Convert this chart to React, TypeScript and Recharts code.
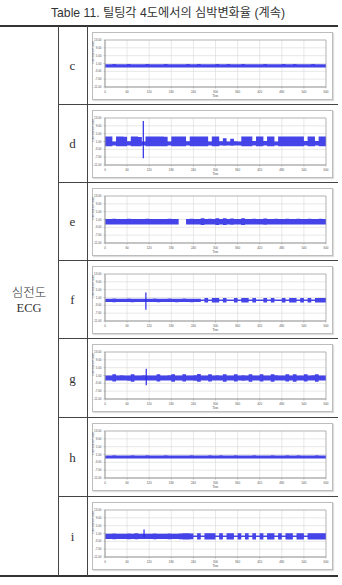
import React from 'react';
import { ComposedChart, Area, XAxis, YAxis, CartesianGrid, ReferenceArea, ReferenceLine } from 'recharts';

const TITLE = 'Table 11. 틸팅각 4도에서의 심박변화율 (계속)';
const GROUP_LABEL_KO = '심전도';
const GROUP_LABEL_EN = 'ECG';
const ROW_LABELS = ['c', 'd', 'e', 'f', 'g', 'h', 'i'];
const X_TICKS = [0, 60, 120, 180, 240, 300, 360, 420, 480, 540, 600];
const X_LABEL = 'Time';
const Y_LABEL = 'Differenced Count';
const Y_TICKS = [-11, -7, -3, 1, 5, 9, 13];
const Y_TICK_LABELS = ['-11.00', '-7.00', '-3.00', '1.00', '5.00', '9.00', '13.00'];

const TIME_BINS = [
  0, 10, 20, 30, 40, 50, 60, 70, 80, 90,
  100, 110, 120, 130, 140, 150, 160, 170, 180, 190,
  200, 210, 220, 230, 240, 250, 260, 270, 280, 290,
  300, 310, 320, 330, 340, 350, 360, 370, 380, 390,
  400, 410, 420, 430, 440, 450, 460, 470, 480, 490,
  500, 510, 520, 530, 540, 550, 560, 570, 580, 590,
];
const END_TIME = 600;

const C_HI = [
  0.6, 0.6, 0.7, 0.6, 0.6, 0.6, 0.7, 0.6, 0.6, 0.6,
  0.6, 0.7, 0.6, 0.6, 0.6, 0.6, 0.7, 0.6, 0.6, 0.6,
  0.6, 0.6, 0.7, 0.6, 0.6, 0.7, 0.6, 0.6, 0.6, 0.6,
  0.7, 0.6, 0.6, 0.7, 0.6, 0.6, 0.6, 0.7, 0.6, 0.6,
  0.6, 0.6, 0.6, 0.7, 0.6, 0.6, 0.6, 0.6, 0.7, 0.6,
  0.6, 0.7, 0.6, 0.6, 0.6, 0.6, 0.7, 0.6, 0.6, 0.6,
];
const C_LO = [
  -1.0, -1.0, -1.1, -1.0, -1.0, -1.0, -1.0, -1.1, -1.0, -1.0,
  -1.0, -1.0, -1.0, -1.1, -1.0, -1.0, -1.0, -1.0, -1.1, -1.0,
  -1.0, -1.1, -1.0, -1.0, -1.0, -1.0, -1.1, -1.0, -1.0, -1.0,
  -1.0, -1.0, -1.1, -1.0, -1.0, -1.1, -1.0, -1.0, -1.0, -1.0,
  -1.1, -1.0, -1.0, -1.0, -1.0, -1.1, -1.0, -1.0, -1.0, -1.1,
  -1.0, -1.0, -1.0, -1.1, -1.0, -1.0, -1.0, -1.1, -1.0, -1.0,
];

const D_HI = [
  3.6, 3.5, 1.0, 3.6, 3.6, 3.4, 1.1, 3.6, 3.5, 3.3,
  1.0, 3.6, 3.6, 3.5, 3.6, 3.6, 3.4, 1.0, 3.6, 3.6,
  3.5, 3.6, 1.1, 3.6, 3.6, 3.6, 3.5, 3.6, 1.0, 3.6,
  3.5, 1.1, 2.6, 1.0, 2.4, 1.1, 1.0, 3.6, 3.6, 3.5,
  1.2, 3.6, 3.6, 1.3, 3.6, 3.5, 1.0, 3.6, 3.6, 3.6,
  3.5, 3.6, 3.6, 3.5, 1.2, 3.6, 3.6, 1.3, 3.6, 3.5,
];
const D_LO = [
  -1.4, -1.4, -1.0, -1.4, -1.4, -1.4, -1.0, -1.4, -1.4, -1.4,
  -1.0, -1.4, -1.4, -1.4, -1.4, -1.4, -1.4, -1.0, -1.4, -1.4,
  -1.4, -1.4, -1.0, -1.4, -1.4, -1.4, -1.4, -1.4, -1.0, -1.4,
  -1.4, -1.0, -1.2, -1.0, -1.2, -1.0, -1.0, -1.4, -1.4, -1.4,
  -1.1, -1.4, -1.4, -1.1, -1.4, -1.4, -1.0, -1.4, -1.4, -1.4,
  -1.4, -1.4, -1.4, -1.4, -1.1, -1.4, -1.4, -1.1, -1.4, -1.4,
];

const E_HI = [
  1.3, 1.3, 1.4, 1.3, 1.3, 1.3, 1.4, 1.3, 1.3, 1.3,
  1.3, 1.4, 1.3, 1.3, 1.3, 1.3, 1.3, 1.4, 1.3, 1.3,
  -0.2, -0.2, 1.3, 1.4, 1.3, 1.3, 1.6, 1.3, 1.4, 1.3,
  1.6, 1.3, 1.6, 1.3, 1.5, 1.3, 1.3, 1.6, 1.3, 1.3,
  1.4, 1.3, 1.3, 1.5, 1.3, 1.3, 1.4, 1.3, 1.3, 1.4,
  1.3, 1.3, 1.4, 1.3, 1.3, 1.4, 1.3, 1.3, 1.4, 1.3,
];
const E_LO = [
  -1.5, -1.5, -1.6, -1.5, -1.5, -1.5, -1.5, -1.6, -1.5, -1.5,
  -1.5, -1.5, -1.5, -1.6, -1.5, -1.5, -1.5, -1.5, -1.6, -1.5,
  -0.2, -0.2, -1.5, -1.6, -1.5, -1.5, -1.8, -1.5, -1.6, -1.5,
  -1.8, -1.5, -1.8, -1.5, -1.7, -1.5, -1.5, -1.8, -1.5, -1.5,
  -1.6, -1.5, -1.5, -1.7, -1.5, -1.5, -1.6, -1.5, -1.5, -1.6,
  -1.5, -1.5, -1.6, -1.5, -1.5, -1.6, -1.5, -1.5, -1.6, -1.5,
];

const F_HI = [
  0.4, 0.4, 0.5, 0.4, 0.4, 0.4, 0.5, 0.4, 0.4, 0.4,
  0.4, 0.4, 0.4, 0.5, 0.4, 0.4, 0.4, 0.5, 0.4, 0.4,
  0.4, 0.5, 0.4, 0.4, 0.4, 0.4, 0.0, 0.7, 0.0, 0.7,
  0.7, 0.0, 0.7, 0.0, 0.0, 0.7, 0.0, 0.7, 0.7, 0.0,
  0.7, 0.0, 0.0, 0.7, 0.0, 0.7, 0.0, 0.0, 0.7, 0.0,
  0.7, 0.7, 0.0, 0.7, 0.0, 0.7, 0.0, 0.7, 0.7, 0.7,
];
const F_LO = [
  -1.3, -1.3, -1.4, -1.3, -1.3, -1.3, -1.3, -1.4, -1.3, -1.3,
  -1.3, -1.3, -1.3, -1.3, -1.4, -1.3, -1.3, -1.3, -1.3, -1.4,
  -1.3, -1.3, -1.3, -1.4, -1.3, -1.3, -0.8, -1.6, -0.8, -1.6,
  -1.6, -0.8, -1.6, -0.8, -0.8, -1.6, -0.8, -1.6, -1.6, -0.8,
  -1.6, -0.8, -0.8, -1.6, -0.8, -1.6, -0.8, -0.8, -1.6, -0.8,
  -1.6, -1.6, -0.8, -1.6, -0.8, -1.6, -0.8, -1.6, -1.6, -1.6,
];

const G_HI = [
  1.0, 1.0, 1.6, 1.0, 1.1, 1.0, 1.0, 1.7, 1.0, 1.0,
  1.1, 1.0, 1.0, 1.0, 1.6, 1.0, 1.0, 1.1, 1.7, 1.0,
  1.0, 1.6, 1.0, 1.0, 1.1, 1.8, 1.0, 1.0, 1.6, 1.0,
  1.1, 1.0, 1.7, 1.0, 1.0, 1.6, 1.0, 1.1, 1.0, 1.7,
  1.0, 1.0, 1.6, 1.0, 1.0, 1.7, 1.1, 1.0, 1.0, 1.6,
  1.0, 1.7, 1.0, 1.0, 1.6, 1.0, 1.1, 1.7, 1.0, 1.0,
];
const G_LO = [
  -1.6, -1.6, -2.1, -1.6, -1.6, -1.6, -1.7, -2.2, -1.6, -1.6,
  -1.6, -1.6, -1.6, -1.6, -2.1, -1.6, -1.6, -1.6, -2.2, -1.6,
  -1.6, -2.1, -1.6, -1.6, -1.7, -2.2, -1.6, -1.6, -2.1, -1.6,
  -1.6, -1.6, -2.2, -1.6, -1.6, -2.1, -1.6, -1.7, -1.6, -2.2,
  -1.6, -1.6, -2.1, -1.6, -1.6, -2.2, -1.6, -1.6, -1.6, -2.1,
  -1.6, -2.2, -1.6, -1.6, -2.1, -1.6, -1.6, -2.2, -1.6, -1.6,
];

const H_HI = [
  0.5, 0.5, 0.6, 0.5, 0.5, 0.5, 0.5, 0.6, 0.5, 0.5,
  0.5, 0.6, 0.5, 0.5, 0.5, 0.5, 0.6, 0.5, 0.5, 0.5,
  0.5, 0.5, 0.5, 0.6, 0.5, 0.5, 0.5, 0.5, 0.6, 0.5,
  0.5, 0.6, 0.5, 0.5, 0.5, 0.6, 0.5, 0.5, 0.5, 0.5,
  0.6, 0.5, 0.5, 0.5, 0.5, 0.6, 0.5, 0.5, 0.5, 0.6,
  0.5, 0.5, 0.6, 0.5, 0.5, 0.5, 0.5, 0.6, 0.5, 0.5,
];
const H_LO = [
  -1.0, -1.0, -1.0, -1.1, -1.0, -1.0, -1.0, -1.0, -1.1, -1.0,
  -1.0, -1.0, -1.1, -1.0, -1.0, -1.0, -1.0, -1.1, -1.0, -1.0,
  -1.1, -1.0, -1.0, -1.0, -1.0, -1.1, -1.0, -1.0, -1.0, -1.0,
  -1.0, -1.1, -1.0, -1.0, -1.0, -1.0, -1.1, -1.0, -1.0, -1.0,
  -1.0, -1.0, -1.1, -1.0, -1.0, -1.0, -1.0, -1.1, -1.0, -1.0,
  -1.1, -1.0, -1.0, -1.0, -1.1, -1.0, -1.0, -1.0, -1.0, -1.1,
];

const I_HI = [
  0.9, 0.9, 1.0, 0.9, 0.9, 0.9, 1.0, 0.9, 1.1, 0.9,
  0.9, 0.9, 0.9, 1.0, 0.9, 0.9, 0.9, 1.0, 0.9, 0.9,
  1.0, 1.1, 1.1, 1.0, 0.0, 1.1, 0.0, 1.1, 1.1, 1.1,
  0.0, 1.1, 0.0, 1.1, 1.1, 0.0, 1.1, 0.0, 1.1, 0.0,
  1.1, 0.0, 1.1, 0.0, 1.1, 1.1, 0.0, 1.1, 0.0, 1.1,
  1.1, 0.0, 1.1, 1.1, 0.0, 1.1, 1.1, 1.1, 1.1, 1.1,
];
const I_LO = [
  -1.8, -1.8, -1.9, -1.8, -1.8, -1.8, -1.9, -1.8, -1.9, -1.8,
  -1.8, -1.8, -1.8, -1.9, -1.8, -1.8, -1.8, -1.9, -1.8, -1.8,
  -1.9, -2.0, -2.0, -1.9, -0.8, -2.0, -0.8, -2.0, -2.0, -2.0,
  -0.8, -2.0, -0.8, -2.0, -2.0, -0.8, -2.0, -0.8, -2.0, -0.8,
  -2.0, -0.8, -2.0, -0.8, -2.0, -2.0, -0.8, -2.0, -0.8, -2.0,
  -2.0, -0.8, -2.0, -2.0, -0.8, -2.0, -2.0, -2.0, -2.0, -2.0,
];

// isolated spikes per panel: time, top, bottom (null = none)
const SPIKE_T = [null, 104, null, 111, 112, null, 106];
const SPIKE_HI = [null, 11.5, null, 3.6, 4.5, null, 3.0];
const SPIKE_LO = [null, -7.5, null, -5.2, -4.0, null, -1.0];

const SERIES_HI = [C_HI, D_HI, E_HI, F_HI, G_HI, H_HI, I_HI];
const SERIES_LO = [C_LO, D_LO, E_LO, F_LO, G_LO, H_LO, I_LO];

const ROW_TOPS = [26, 104, 182, 260, 338, 417, 496];
const TABLE_BOTTOM = 576;

const ECG_BLUE = '#2a2ae6';

function buildData(hi: number[], lo: number[]) {
  const rows = TIME_BINS.map((t, i) => ({ t, r: [lo[i], hi[i]] }));
  const last = hi.length - 1;
  rows.push({ t: END_TIME, r: [lo[last], hi[last]] });
  return rows;
}

const tickStyle = { fontSize: 3, fill: '#555', fontFamily: 'Liberation Sans, Arial, sans-serif' };

function Panel({ idx }: { idx: number }) {
  const data = buildData(SERIES_HI[idx], SERIES_LO[idx]);
  const st = SPIKE_T[idx];
  const sh = SPIKE_HI[idx];
  const sl = SPIKE_LO[idx];
  return (
    <ComposedChart width={241} height={68} data={data} margin={{ top: 8, right: 7, left: 0, bottom: 0 }}>
      <CartesianGrid stroke="#d8d8d8" strokeWidth={0.6} />
      <XAxis
        dataKey="t"
        type="number"
        domain={[0, 600]}
        ticks={X_TICKS}
        height={13}
        tick={tickStyle}
        tickSize={1.5}
        stroke="#999"
        strokeWidth={0.6}
        interval={0}
        label={{ value: X_LABEL, position: 'insideBottom', offset: 3, fontSize: 3, fill: '#555' }}
      />
      <YAxis
        type="number"
        domain={[-11, 13]}
        ticks={Y_TICKS}
        width={13}
        tick={tickStyle}
        tickSize={1.5}
        stroke="#999"
        strokeWidth={0.6}
        interval={0}
        tickFormatter={(v: number) => Y_TICK_LABELS[Y_TICKS.indexOf(v)] ?? String(v)}
        label={{ value: Y_LABEL, angle: -90, position: 'insideLeft', offset: 1, fontSize: 3, fill: '#555' }}
      />
      <Area
        dataKey="r"
        type="stepAfter"
        fill={ECG_BLUE}
        fillOpacity={0.88}
        stroke="none"
        isAnimationActive={false}
      />
      {st !== null && sh !== null && sl !== null ? (
        <ReferenceLine
          segment={[{ x: st, y: sl }, { x: st, y: sh }]}
          stroke={ECG_BLUE}
          strokeWidth={1.2}
        />
      ) : null}
      <ReferenceArea x1={0} x2={600} y1={-11} y2={13} fill="none" stroke="#a8a8a8" strokeWidth={0.7} />
    </ComposedChart>
  );
}

export default function App() {
  const line = '#444';
  return (
    <div style={{ position: 'relative', width: 342, height: 585, background: '#fff', overflow: 'hidden' }}>
      <style>{`body{margin:0}`}</style>
      <div
        style={{
          position: 'absolute',
          left: 0,
          width: 336,
          top: 6,
          textAlign: 'center',
          fontFamily: '"Liberation Sans", "Noto Sans CJK KR", sans-serif',
          fontSize: 12.2,
          color: '#333',
          lineHeight: '14px',
        }}
      >
        {TITLE}
      </div>
      <div style={{ position: 'absolute', left: 0, width: 338, top: 25, height: 2, background: '#333' }} />
      <div style={{ position: 'absolute', left: 0, width: 338, top: TABLE_BOTTOM - 1, height: 2, background: '#333' }} />
      <div style={{ position: 'absolute', left: 58, width: 1, top: 26, height: TABLE_BOTTOM - 26, background: line }} />
      <div style={{ position: 'absolute', left: 87, width: 1, top: 26, height: TABLE_BOTTOM - 26, background: line }} />
      {ROW_TOPS.slice(1).map((y) => (
        <div key={y} style={{ position: 'absolute', left: 58, width: 280, top: y, height: 1, background: line }} />
      ))}
      <div
        style={{
          position: 'absolute',
          left: 0,
          width: 58,
          top: 284,
          textAlign: 'center',
          fontFamily: '"Liberation Serif", "Noto Sans CJK KR", serif',
          fontSize: 12.5,
          color: '#333',
          lineHeight: '16px',
        }}
      >
        <div style={{ fontFamily: '"Noto Sans CJK KR", serif', fontWeight: 300 }}>{GROUP_LABEL_KO}</div>
        <div>{GROUP_LABEL_EN}</div>
      </div>
      {ROW_LABELS.map((lab, i) => {
        const top = ROW_TOPS[i];
        const bottom = i + 1 < ROW_TOPS.length ? ROW_TOPS[i + 1] : TABLE_BOTTOM;
        return (
          <React.Fragment key={lab}>
            <div
              style={{
                position: 'absolute',
                left: 58,
                width: 29,
                top: (top + bottom) / 2 - 7,
                textAlign: 'center',
                fontFamily: '"Liberation Serif", serif',
                fontSize: 13,
                color: '#333',
                lineHeight: '16px',
              }}
            >
              {lab}
            </div>
            <div
              style={{
                position: 'absolute',
                left: 92,
                top: top + 6,
                width: 241,
                height: 68,
                boxSizing: 'border-box',
                border: '1px solid #bdbdbd',
                boxShadow: '1px 1px 1px #ddd',
                background: '#fff',
              }}
            />
            <div style={{ position: 'absolute', left: 92, top: top + 6 }}>
              <Panel idx={i} />
            </div>
          </React.Fragment>
        );
      })}
    </div>
  );
}
